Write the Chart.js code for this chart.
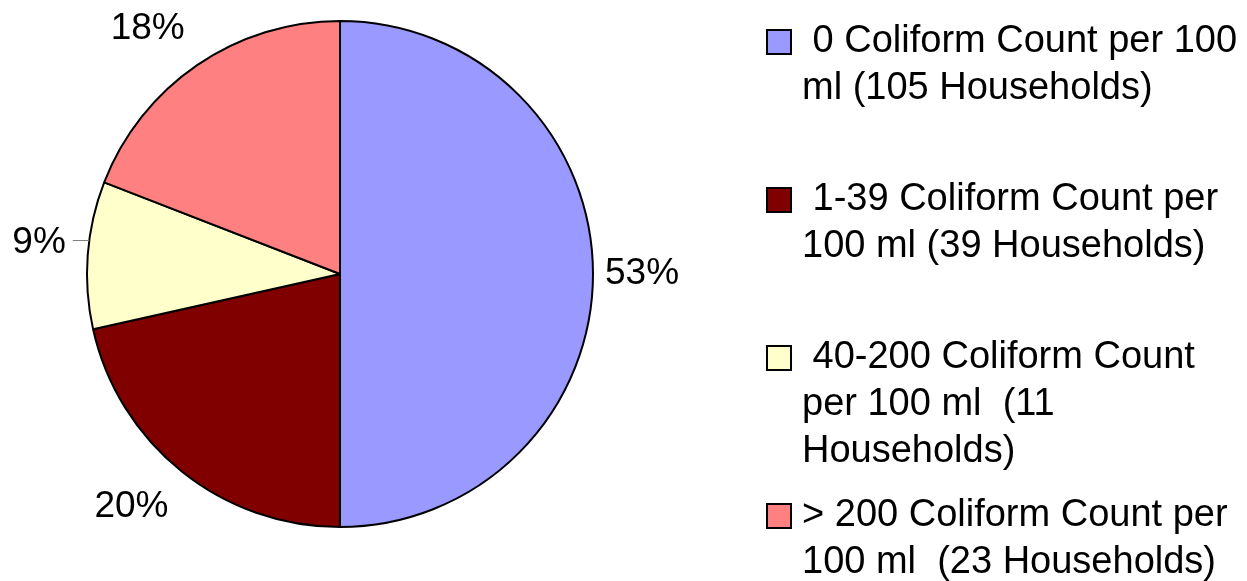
<!DOCTYPE html>
<html>
<head>
<meta charset="utf-8">
<script src="https://cdn.jsdelivr.net/npm/chart.js@4/dist/chart.umd.min.js"></script>
<style>
html,body{margin:0;padding:0;background:#fff;}
#wrap{position:relative;width:1247px;height:581px;overflow:hidden;}
#c{position:absolute;left:0;top:0;}
#legend{position:absolute;left:766px;top:16px;font-family:"Liberation Sans",Arial,Helvetica,sans-serif;font-size:38px;line-height:47px;color:#000;}
.item{position:relative;height:158px;}
.sw{position:absolute;left:0;top:13px;width:26px;height:26px;box-sizing:border-box;border:2px solid #000;}
.txt{position:absolute;left:36px;top:0;white-space:pre;}
</style>
</head>
<body>
<div id="wrap">
<canvas id="c" width="1247" height="581"></canvas>
<div id="legend"></div>
</div>
<script>
// Categories (legend text, one entry per line)
const categories = [
  [" 0 Coliform Count per 100", "ml (105 Households)"],
  [" 1-39 Coliform Count per", "100 ml (39 Households)"],
  [" 40-200 Coliform Count", "per 100 ml  (11", "Households)"],
  ["> 200 Coliform Count per", "100 ml  (23 Households)"]
];
// Slice sizes (percent of circle)
const sliceValues = [50, 21.5, 9.4, 19.1];
// Printed percentage labels
const percentLabels = ["53%", "20%", "9%", "18%"];
// Slice colours
const sliceColors = ["#9999FF", "#800000", "#FFFFCC", "#FF8080"];

const FONT = '"Liberation Sans", Arial, Helvetica, sans-serif';

const pctPlugin = {
  id: 'pctLabels',
  afterDatasetsDraw(chart) {
    const ctx = chart.ctx;
    const meta = chart.getDatasetMeta(0);
    ctx.save();
    ctx.font = '37px ' + FONT;
    ctx.fillStyle = '#000';
    meta.data.forEach((arc, i) => {
      const p = arc.getProps(['x', 'y', 'startAngle', 'endAngle', 'outerRadius'], true);
      const mid = (p.startAngle + p.endAngle) / 2;
      const dx = Math.cos(mid), dy = Math.sin(mid);
      const small = sliceValues[i] < 10;
      const R = p.outerRadius + (small ? 22 : 12 + 12 * Math.abs(dy));
      const ax = p.x + dx * R, ay = p.y + dy * R;
      ctx.textAlign = dx > 0.3 ? 'left' : (dx < -0.3 ? 'right' : 'center');
      if (small) {
        ctx.textBaseline = 'alphabetic';
      } else {
        ctx.textBaseline = dy > 0.3 ? 'top' : (dy < -0.3 ? 'bottom' : 'middle');
      }
      ctx.fillText(percentLabels[i], ax, ay);
      if (small) {
        const ly = Math.round(ay - 13) + 0.5;
        const edgeX = p.x - Math.sqrt(Math.max(p.outerRadius * p.outerRadius - (ly - p.y) * (ly - p.y), 0));
        ctx.strokeStyle = '#808080';
        ctx.lineWidth = 1;
        ctx.beginPath();
        ctx.moveTo(ax + 7, ly);
        ctx.lineTo(edgeX, ly);
        ctx.stroke();
      }
    });
    ctx.restore();
  }
};

const chart = new Chart(document.getElementById('c'), {
  type: 'pie',
  data: {
    labels: categories,
    datasets: [{
      data: sliceValues,
      backgroundColor: sliceColors,
      borderColor: '#000',
      borderWidth: 2
    }]
  },
  options: {
    responsive: false,
    animation: false,
    radius: 253,
    layout: { padding: { left: 87, right: 654, top: 21, bottom: 54 } },
    plugins: {
      legend: { display: false },
      tooltip: { enabled: false }
    }
  },
  plugins: [pctPlugin]
});

// HTML legend built from chart data
const legendEl = document.getElementById('legend');
chart.data.labels.forEach((lines, i) => {
  const item = document.createElement('div');
  item.className = 'item';
  const sw = document.createElement('div');
  sw.className = 'sw';
  sw.style.background = chart.data.datasets[0].backgroundColor[i];
  const txt = document.createElement('div');
  txt.className = 'txt';
  txt.textContent = lines.join('\n');
  item.appendChild(sw);
  item.appendChild(txt);
  legendEl.appendChild(item);
});
</script>
</body>
</html>
